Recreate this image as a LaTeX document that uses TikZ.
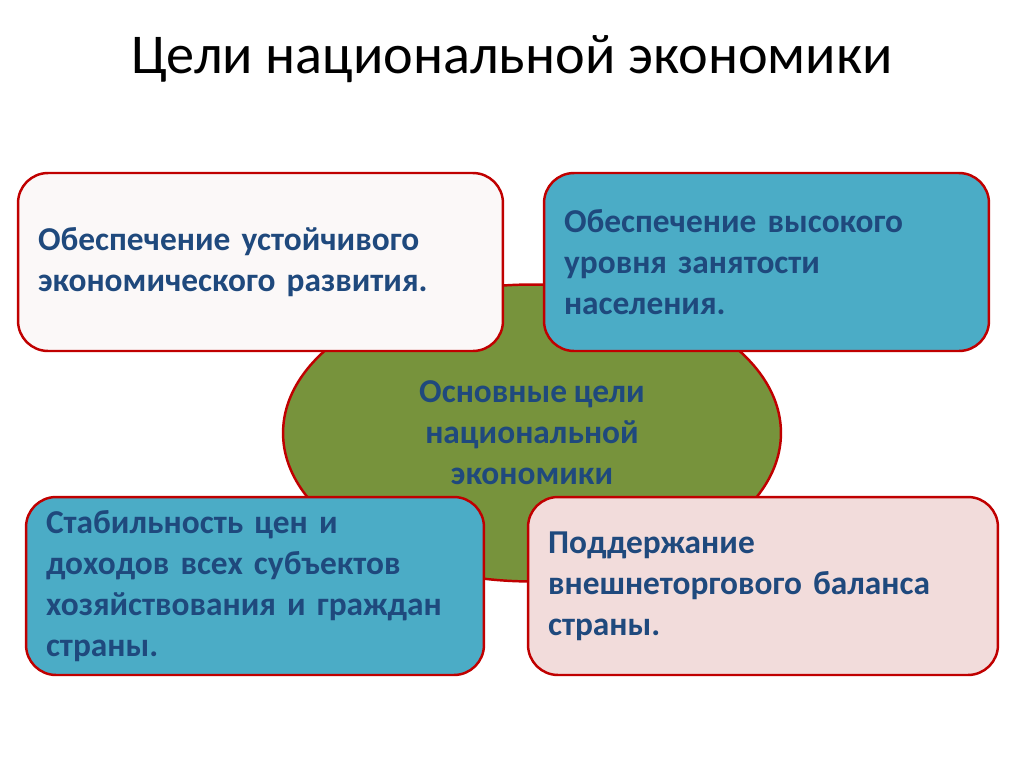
\documentclass[tikz,border=0pt]{standalone}
\usepackage{fontspec}
\setmainfont{Carlito}
\usetikzlibrary{shapes.geometric}

\definecolor{goalred}{HTML}{C00000}
\definecolor{goalblue}{HTML}{4BACC6}
\definecolor{goalpink}{HTML}{F2DCDB}
\definecolor{goalwhite}{HTML}{FBF8F8}
\definecolor{goalgreen}{HTML}{77933C}
\definecolor{goaltext}{HTML}{1F497D}
\newcommand{\goalfont}{\fontsize{19}{23.3}\selectfont\bfseries\spaceskip=0.2em\relax}

\begin{document}
\begin{tikzpicture}[x=0.02cm, y=-0.02cm,
	goalbox/.style={draw=goalred, line width=1.4pt, rounded corners=0.6cm,
		inner xsep=0.4cm, minimum height=3.56cm, align=left,
		text=goaltext, font=\goalfont},
	core/.style={ellipse, draw=goalred, line width=1.4pt, fill=goalgreen,
		minimum width=9.96cm, minimum height=5.94cm, align=center,
		text=goaltext, font=\goalfont}]
	\useasboundingbox (0,0) rectangle (1024,767);
	\node (title) at (512,59) {\fontsize{32}{38}\selectfont Цели национальной экономики};
	\node[core] (center) at (532,433) {Основные цели\\национальной\\экономики};
	\node[goalbox, fill=goalwhite, text width=8.9cm] (growth) at (260.5,262)
		{Обеспечение устойчивого\\экономического развития.};
	\node[goalbox, fill=goalblue, text width=8.1cm] (jobs) at (766.5,262)
		{Обеспечение высокого\\уровня занятости\\населения.};
	\node[goalbox, fill=goalblue, text width=8.36cm] (prices) at (255,586)
		{Стабильность цен и\\доходов всех субъектов\\хозяйствования и граждан\\страны.};
	\node[goalbox, fill=goalpink, text width=8.6cm] (trade) at (763,586)
		{Поддержание\\внешнеторгового баланса\\страны.};
\end{tikzpicture}
\end{document}
